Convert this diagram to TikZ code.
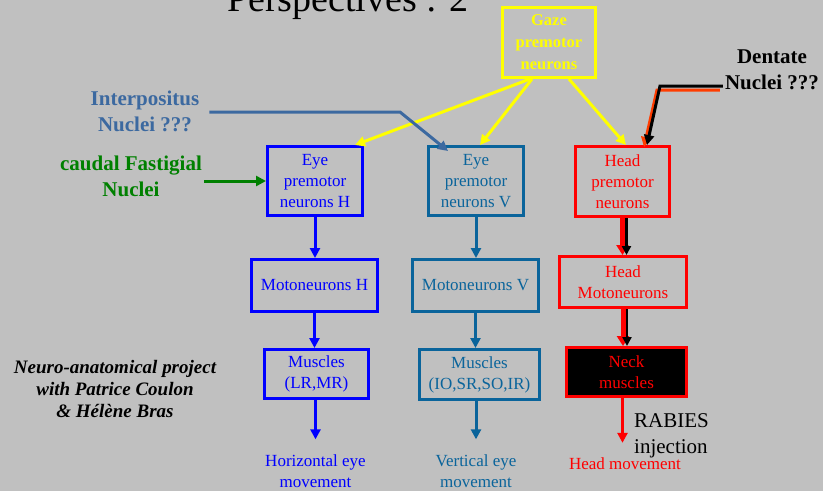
\documentclass[tikz,border=0pt]{standalone}
\usepackage{fontspec}
\setmainfont{Liberation Serif}
\usepackage{tikz}
\usetikzlibrary{arrows.meta, calc}
\definecolor{bggray}{RGB}{192, 192, 192}
\definecolor{hblue}{RGB}{0, 0, 255}
\definecolor{vblue}{RGB}{10, 100, 155}
\definecolor{ipblue}{RGB}{60, 105, 160}
\definecolor{fgreen}{RGB}{0, 128, 0}
\definecolor{gyellow}{RGB}{255, 255, 0}
\definecolor{hred}{RGB}{255, 0, 0}
\definecolor{dred}{RGB}{255, 60, 0}

\begin{document}
\begin{tikzpicture}[
    x=1pt, y=-1pt,
    box/.style={rectangle, draw, line width=3pt, inner sep=1pt, align=center, font=\fontsize{17}{21}\selectfont},
    gazebox/.style={box, draw=gyellow, text=gyellow, minimum width=93pt, minimum height=70pt, font=\fontsize{16.5}{22}\selectfont\bfseries},
    premot/.style={box, minimum width=95pt, minimum height=69pt},
    motbox/.style={box, minimum width=126pt, minimum height=52pt},
    musbox/.style={box, minimum height=49pt},
    side/.style={align=center, inner sep=2pt, font=\fontsize{21}{26}\selectfont\bfseries},
    outtext/.style={align=center, inner sep=0pt, font=\fontsize{17}{21}\selectfont},
    arrow/.style={line width=3pt, -{Triangle[length=10pt,width=10pt]}},
    fatarrow/.style={line width=5pt, color=hred, -{Triangle[length=10pt,width=12pt]}},
    thinarrow/.style={line width=2.5pt, color=black, -{Triangle[length=9pt,width=9pt]}}
]
\useasboundingbox (0,0) rectangle (823,491);
\fill[bggray] (0,0) rectangle (823,491);
\clip (0,0) rectangle (823,491);

% titre (coupe en haut)
\node[anchor=base, inner sep=0pt, font=\fontsize{38}{40}\selectfont] (title) at (348,11) {Perspectives : 2};

% premoteurs
\node [gazebox] (gaze) at (549,42.5) {Gaze\\premotor\\neurons};
\node [premot, color=hblue] (eyeH) at (315,181) {Eye\\premotor\\neurons H};
\node [premot, color=vblue] (eyeV) at (476,181) {Eye\\premotor\\neurons V};
\node [premot, color=hred, minimum width=94pt, minimum height=70pt] (headP) at (622.5,181.5) {Head\\premotor\\neurons};

% motoneurones
\node [motbox, color=hblue] (motoH) at (314.5,285.5) {Motoneurons H};
\node [motbox, color=vblue] (motoV) at (475.5,285.5) {Motoneurons V};
\node [motbox, color=hred, minimum width=127pt, minimum height=51pt] (motoHead) at (623,282) {Head\\Motoneurons};

% muscles
\node [musbox, color=hblue, minimum width=104pt] (musH) at (316.5,374) {Muscles\\(LR,MR)};
\node [musbox, color=vblue, minimum width=120pt, minimum height=50pt] (musV) at (479.5,374.5) {Muscles\\(IO,SR,SO,IR)};
\node [musbox, draw=hred, fill=black, text=hred, minimum width=120pt] (neck) at (626.5,372) {Neck\\muscles};

% mouvements
\node [outtext, text=hblue] (hmove) at (315.5,471) {Horizontal eye\\movement};
\node [outtext, text=vblue] (vmove) at (476,471) {Vertical eye\\movement};
\node [outtext, text=hred] (headmove) at (625,464) {Head movement};
\node [anchor=west, align=left, inner sep=0pt, font=\fontsize{21}{26}\selectfont] (rabies) at (634,436) {RABIES\\injection};

% noyaux cerebelleux
\node [side, text=ipblue] (inter) at (145,111) {Interpositus\\Nuclei ???};
\node [side, text=fgreen] (fast) at (131,176) {caudal Fastigial\\Nuclei};
\node [side, text=black] (dent) at (772,70) {Dentate\\Nuclei ???};
\node [align=center, inner sep=0pt, font=\fontsize{19}{22}\selectfont\bfseries\itshape] (project) at (115,389) {Neuro-anatomical project\\with Patrice Coulon\\\& Hélène Bras};

\coordinate (ibend) at (400,112);
\coordinate (dbend) at (660,86);

% gaze vers premoteurs
\draw [arrow, color=gyellow] ([xshift=-19pt]gaze.south) -- ([xshift=40pt]eyeH.north);
\draw [arrow, color=gyellow] ([xshift=-17pt]gaze.south) -- ([xshift=4pt]eyeV.north);
\draw [arrow, color=gyellow] ([xshift=20pt]gaze.south) -- ([xshift=3.5pt]headP.north);

% entrees
\draw [arrow, color=ipblue] ([xshift=8pt]inter.east |- ibend) -- (ibend) -- ([xshift=-28pt,yshift=-6pt]eyeV.north);
\draw [arrow, color=fgreen] (fast.east |- eyeH.west) -- (eyeH.west);
\draw [line width=3pt, color=dred, -{Triangle[length=10pt,width=10pt]}] ([shift={(-3pt,-4pt)}]dent.west |- dbend) -- ([shift={(-3pt,-4pt)}]dbend) -- ([shift={(21.5pt,-2pt)}]headP.north);
\draw [arrow, color=black] (dent.west |- dbend) -- (dbend) -- ([xshift=24.5pt]headP.north);

% colonne H
\draw [arrow, color=hblue] (eyeH.south) -- (eyeH.south |- motoH.north);
\draw [arrow, color=hblue] (motoH.south) -- (motoH.south |- musH.north);
\draw [arrow, color=hblue, shorten >=15pt] (musH.south -| hmove.north) -- (hmove.north);

% colonne V
\draw [arrow, color=vblue] (eyeV.south) -- (eyeV.south |- motoV.north);
\draw [arrow, color=vblue] (motoV.south) -- (motoV.south |- musV.north);
\draw [arrow, color=vblue, shorten >=15pt] (musV.south -| vmove.north) -- (vmove.north);

% colonne tete
\draw [fatarrow] (headP.south) -- (headP.south |- motoHead.north);
\draw [thinarrow] ([xshift=4pt]headP.south) -- ([xshift=4pt]headP.south |- motoHead.north);
\draw [fatarrow] (motoHead.south) -- (motoHead.south |- neck.north);
\draw [thinarrow] ([xshift=4pt]motoHead.south) -- ([xshift=4pt]motoHead.south |- neck.north);
\draw [arrow, color=hred, shorten >=15pt] ([xshift=-4pt]neck.south) -- ([xshift=-4pt]neck.south |- headmove.north);

\end{tikzpicture}
\end{document}
